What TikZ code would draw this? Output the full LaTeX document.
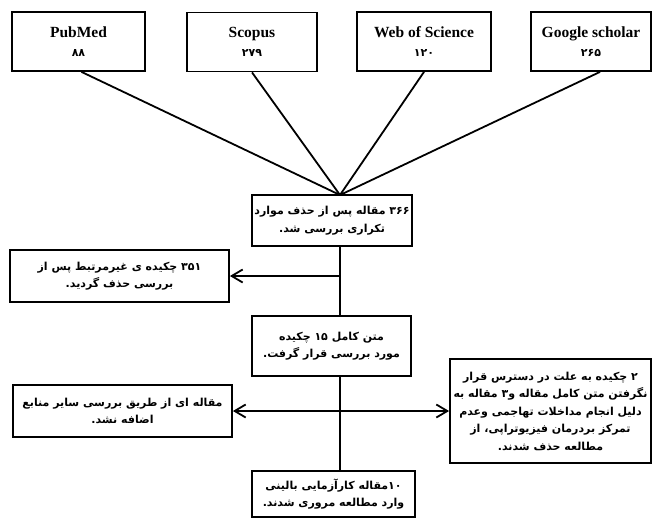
\documentclass[tikz,border=0pt]{standalone}
\usepackage{fontspec}
\setmainfont{Liberation Serif}
\newfontfamily\farsi[Script=Arabic]{DejaVu Sans}
\TeXXeTstate=1
\usetikzlibrary{arrows.meta}
\newcommand{\fline}[1]{{\farsi\bfseries\beginR #1\endR}}
\newcommand{\fnum}[1]{{\farsi\bfseries\fontsize{11}{12}\selectfont #1}}

\begin{document}
\begin{tikzpicture}[x=1pt,y=-1pt,
		box/.style={draw,line width=1.8pt,align=center,inner sep=2pt},
		topbox/.style={box,minimum height=59pt,font=\fontsize{15.5}{19}\selectfont\bfseries},
		farbox/.style={box,font=\fontsize{11}{17.5}\selectfont},
		link/.style={line width=1.8pt},
		barb/.style={link,-{Straight Barb[length=11pt,width=13pt]}}]
	\useasboundingbox (0,0) rectangle (655,517);
	% sources
	\node[topbox,minimum width=133pt] (pubmed) at (78.5,41.5) {PubMed\\\fnum{۸۸}};
	\node[topbox,minimum width=130pt] (scopus) at (252,42) {Scopus\\\fnum{۲۷۹}};
	\node[topbox,minimum width=134pt] (wos) at (424,41.5) {Web of Science\\\fnum{۱۲۰}};
	\node[topbox,minimum width=120pt] (gscholar) at (591,41.5) {Google scholar\\\fnum{۲۶۵}};
	% main column
	\node[farbox,minimum width=160pt,minimum height=51pt] (dedup) at (332,220.5)
		{\fline{۳۶۶ مقاله پس از حذف موارد}\\\fline{تکراری بررسی شد.}};
	\node[farbox,minimum width=159pt,minimum height=60pt] (fulltext) at (331.5,346)
		{\fline{متن کامل ۱۵ چکیده}\\\fline{مورد بررسی قرار گرفت.}};
	\node[farbox,minimum width=163pt,minimum height=46pt] (final) at (333.5,494)
		{\fline{۱۰مقاله کارآزمایی بالینی}\\\fline{وارد مطالعه مروری شدند.}};
	% side boxes
	\node[farbox,minimum width=219pt,minimum height=52pt] (irrel) at (119.5,276)
		{\fline{۳۵۱ چکیده ی غیرمرتبط پس از}\\\fline{بررسی حذف گردید.}};
	\node[farbox,minimum width=219pt,minimum height=52pt] (other) at (122.5,411)
		{\fline{مقاله ای از طریق بررسی سایر منابع}\\\fline{اضافه نشد.}};
	\node[farbox,minimum width=201pt,minimum height=104pt] (excl) at (550.5,411)
		{\fline{۲ چکیده به علت در دسترس قرار}\\\fline{نگرفتن متن کامل مقاله و۳ مقاله به}\\
		 \fline{دلیل انجام مداخلات تهاجمی وعدم}\\\fline{تمرکز بردرمان فیزیوتراپی، از}\\
		 \fline{مطالعه حذف شدند.}};
	\coordinate (hub) at (340,195);
	\draw[link] ([xshift=3pt]pubmed.south) -- (hub);
	\draw[link] (scopus.south) -- (hub);
	\draw[link] (wos.south) -- (hub);
	\draw[link] ([xshift=9pt]gscholar.south) -- (hub);
	\draw[link] (hub |- dedup.south) -- (hub |- fulltext.north);
	\draw[link] (hub |- fulltext.south) -- (hub |- final.north);
	\draw[barb] (hub |- irrel.east) -- (irrel.east);
	\draw[barb] (hub |- other.east) -- (other.east);
	\draw[barb] (hub |- excl.west) -- (excl.west);
\end{tikzpicture}
\end{document}
